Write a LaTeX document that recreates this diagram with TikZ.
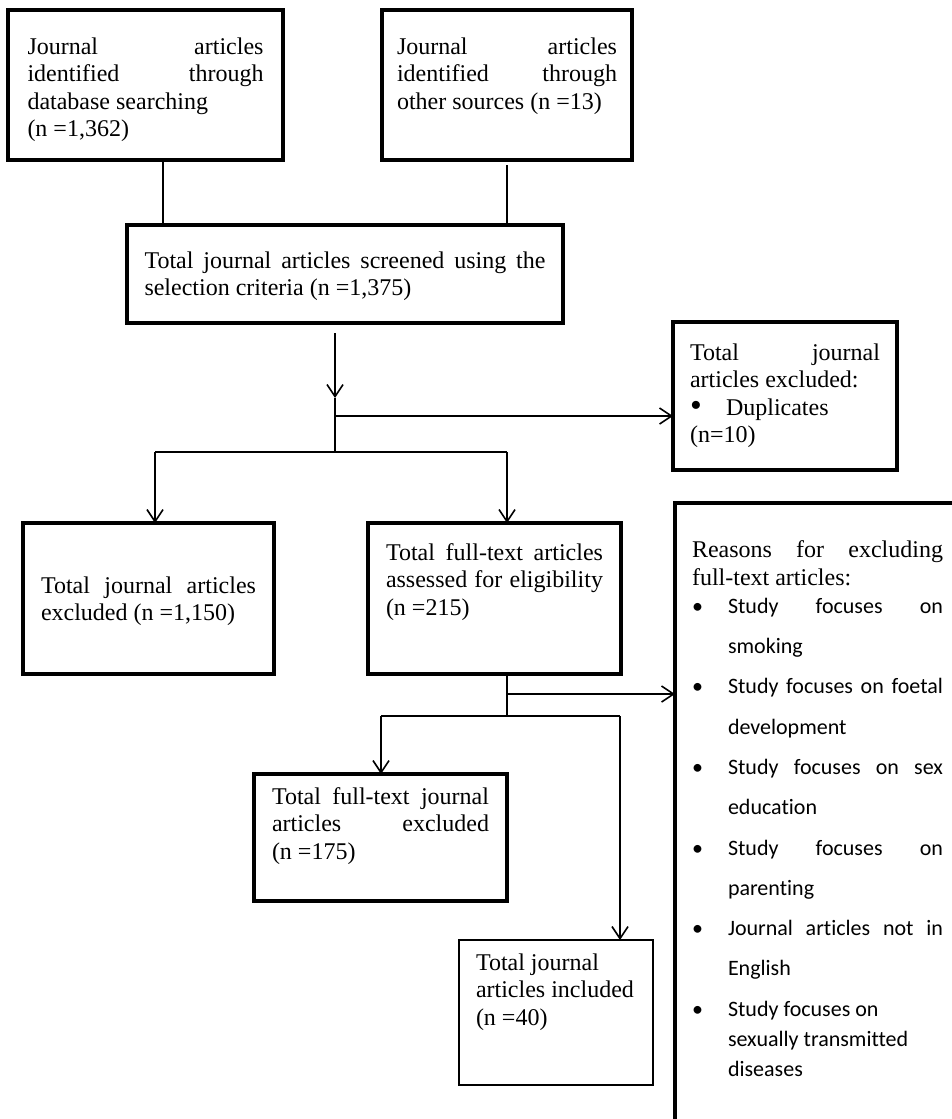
\documentclass[tikz,border=0pt]{standalone}
\usepackage{fontspec}
\usepackage{graphicx}
\setmainfont{Liberation Serif}[Ligatures=NoCommon]
\newfontfamily\calibri{Carlito}[Ligatures={NoCommon,NoContextual}]
\usetikzlibrary{arrows.meta}
% box body: width, height, gap above the first line, text
\newcommand\boxbody[4]{\parbox[c][#2][t]{#1}{\vspace*{#3}\strut#4}}
\newcommand\bulletbox{\makebox[36pt][l]{\textbullet}}
\newcommand\bigbulletbox{\makebox[36pt][l]{\raisebox{-1.5pt}{\scalebox{1.4}{\textbullet}}}}
\newcommand\itemind{\hspace*{36pt}}
\begin{document}
\begin{tikzpicture}[x=1pt,y=-1pt,
  font=\fontsize{24}{27.5}\selectfont,
  boxthick/.style={draw, line width=3.8pt, inner sep=0pt, outer sep=0pt, anchor=north west},
  boxthin/.style={boxthick, line width=1.8pt},
  conn/.style={line width=1.6pt},
  arr/.style={conn, -{Straight Barb[length=12pt,width=16pt,line width=1.6pt]}}]
\fill[white] (0,0) rectangle (952,1119);
\useasboundingbox (0,0) rectangle (952,1119);
\clip (0,0) rectangle (952,1119);

% identification
\node[boxthick, minimum width=275pt, minimum height=150pt] (A) at (8,10)
  {\boxbody{236pt}{150pt}{25pt}{Journal\hfill articles\\identified\hfill through\\database searching\\(n =1,362)}};
\node[boxthick, minimum width=250pt, minimum height=150pt] (B) at (382,10)
  {\boxbody{220pt}{150pt}{25pt}{Journal\hfill articles\\identified\hfill through\\other sources (n =13)}};

% screening
\node[boxthick, minimum width=436pt, minimum height=98pt] (C) at (127,225)
  {\boxbody{401pt}{98pt}{24pt}{Total\hfill journal\hfill articles\hfill screened\hfill using\hfill the\\selection criteria (n =1,375)}};
\node[boxthick, minimum width=224pt, minimum height=148pt] (D) at (673,322)
  {\boxbody{190pt}{148pt}{19pt}{Total\hfill journal\\articles excluded:\\\bigbulletbox Duplicates\\(n=10)}};

% eligibility
\node[boxthick, minimum width=251pt, minimum height=151pt] (F) at (23,523)
  {\boxbody{215pt}{151pt}{51pt}{Total\hfill journal\hfill articles\\excluded (n =1,150)}};
\node[boxthick, minimum width=253pt, minimum height=151pt] (G) at (368,523)
  {\boxbody{217pt}{151pt}{18pt}{Total\hfill full-text\hfill articles\\assessed\hfill for\hfill eligibility\\(n =215)}};
\node[boxthick, minimum width=285pt, minimum height=640pt] (E) at (675,503)
  {\boxbody{251pt}{640pt}{35pt}{\fontsize{24}{28}\selectfont
   Reasons\hfill for\hfill excluding\\full-text articles:\par
   \calibri\fontsize{22}{28}\selectfont
   \bulletbox Study\hfill focuses\hfill on\\[12.3pt]
   \itemind smoking\\[12.3pt]
   \bulletbox Study\hfill focuses\hfill on\hfill foetal\\[12.3pt]
   \itemind development\\[12.3pt]
   \bulletbox Study\hfill focuses\hfill on\hfill sex\\[12.3pt]
   \itemind education\\[12.3pt]
   \bulletbox Study\hfill focuses\hfill on\\[12.3pt]
   \itemind parenting\\[12.3pt]
   \bulletbox Journal\hfill articles\hfill not\hfill in\\[12.3pt]
   \itemind English\\[12.3pt]
   \bulletbox Study focuses on\\[2pt]
   \itemind sexually transmitted\\[2pt]
   \itemind diseases}};

% included
\node[boxthick, minimum width=253pt, minimum height=127pt] (I) at (254,774)
  {\boxbody{217pt}{127pt}{11pt}{Total\hfill full-text\hfill journal\\articles\hfill excluded\\(n =175)}};
\node[boxthin, minimum width=194pt, minimum height=145pt] (H) at (459,940)
  {\boxbody{160pt}{145pt}{11pt}{Total journal\\articles included\\(n =40)}};

% connector columns and junctions
\coordinate (xa) at (163,0);
\coordinate (xb) at (507,0);
\coordinate (xm) at (335,0);
\coordinate (xf) at (155,0);
\coordinate (xi) at (381,0);
\coordinate (xh) at (620,0);
\coordinate (j1) at (335,398);
\coordinate (jd) at (335,416);
\coordinate (j2) at (335,452);
\coordinate (je) at (507,694);
\coordinate (j3) at (507,716);

\draw[conn] (A.south -| xa) -- (C.north -| xa);
\draw[conn, shorten <=5pt] (B.south -| xb) -- (C.north -| xb);
\draw[arr, shorten <=10pt] (C.south -| xm) -- (j1);
\draw[conn] (j1) -- (j2);
\draw[arr] (jd) -- (D.west |- jd);
\draw[conn] (j2 -| xf) -- (j2 -| xb);
\draw[arr] (j2 -| xf) -- (F.north -| xf);
\draw[arr] (j2 -| xb) -- (G.north -| xb);
\draw[conn] (G.south -| xb) -- (j3);
\draw[arr] (je) -- (E.west |- je);
\draw[conn] (j3 -| xi) -- (j3 -| xh);
\draw[arr] (j3 -| xi) -- (I.north -| xi);
\draw[arr] (j3 -| xh) -- (H.north -| xh);
\end{tikzpicture}
\end{document}
